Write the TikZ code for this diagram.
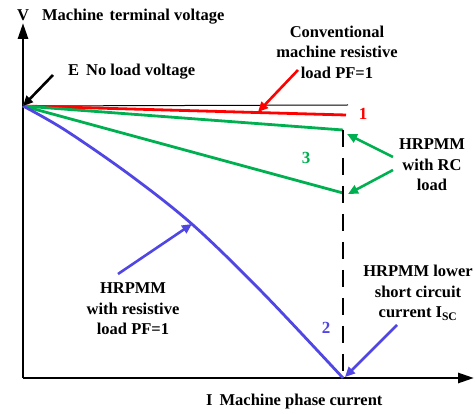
\documentclass[tikz,border=0pt]{standalone}
\usepackage{fontspec}
\setmainfont{Liberation Serif}
\usetikzlibrary{arrows.meta}
\definecolor{cred}{RGB}{255,0,0}
\definecolor{cgreen}{RGB}{0,176,80}
\definecolor{cblue}{RGB}{80,70,228}
\begin{document}
\begin{tikzpicture}[x=1pt,y=-1pt,
  lbl/.style={font=\fontsize{16.5}{20.5}\selectfont\bfseries, inner sep=0pt, align=center},
  axis/.style={line width=2.8pt, -{Triangle[length=16pt,width=10pt]}},
  curve/.style={line width=2.8pt},
  pointer/.style={line width=2.6pt, -{Triangle[length=10pt,width=9pt]}},
  num/.style={font=\fontsize{17}{19}\selectfont\bfseries, inner sep=0pt}]
\useasboundingbox (0,0) rectangle (475,414);

% axes
\coordinate (O) at (23,378);
\coordinate (ytop) at (23,23);
\coordinate (xend) at (474,378);
\draw[axis] (O) -- (ytop);
\draw[axis] (O) -- (xend);

% no-load point
\coordinate (E) at (23,106);
\coordinate (Eend) at (348,105);
\draw[line width=1pt] (E) -- (Eend);

% characteristic curves
\coordinate (r1) at (346,115);
\coordinate (g1) at (343,130);
\coordinate (g2) at (343,193);
\coordinate (sc) at (343,378);
\draw[curve, cred] (E) -- (r1);
\draw[curve, cgreen] (E) -- (g1);
\draw[curve, cgreen] (E) -- (g2);
\draw[curve, cblue] plot[smooth, tension=0.55] coordinates {(23,106) (65,130) (130,175) (193,225) (262,292) (343,378)};
\draw[line width=2.8pt, dash pattern=on 17pt off 11pt] (g1) -- (sc);

% axis labels
\node[lbl, anchor=base west] (vlab) at (17,20.5) {V\hspace{13pt}Machine\hspace{6pt}terminal voltage};
\node[lbl, anchor=base west] (ilab) at (206,405.5) {I\hspace{7pt}Machine phase current};

% annotations
\node[lbl, anchor=base west] (elab) at (68,75.5) {E\hspace{7pt}No load voltage};
\coordinate (etail) at (53,75);
\draw[pointer, black] (etail) -- (E);

\node[lbl] (conv) at (337,52) {Conventional\\machine resistive\\load PF=1};
\coordinate (rtail) at (298,70);
\coordinate (rtip) at (258,112);
\draw[pointer, cred] (rtail) -- (rtip);
\node[num, text=cred] (n1) at (363,114) {1};

\node[lbl] (rc) at (432,165) {HRPMM\\with RC\\load};
\coordinate (gt1) at (393,157);
\coordinate (gh1) at (347,134);
\coordinate (gt2) at (393,170);
\coordinate (gh2) at (348,194);
\draw[pointer, cgreen] (gt1) -- (gh1);
\draw[pointer, cgreen] (gt2) -- (gh2);
\node[num, text=cgreen] (n3) at (306,158) {3};

\node[lbl] (res) at (133,309) {HRPMM\\with resistive\\load PF=1};
\coordinate (bt1) at (118,274);
\coordinate (bh1) at (192,224);
\draw[pointer, cblue] (bt1) -- (bh1);
\node[num, text=cblue] (n2) at (326,328) {2};

\node[lbl] (isc) at (418,293) {HRPMM lower\\short circuit\\current I\textsubscript{SC}};
\coordinate (bt2) at (397,325);
\coordinate (bh2) at (345,377);
\draw[pointer, cblue] (bt2) -- (bh2);
\end{tikzpicture}
\end{document}
